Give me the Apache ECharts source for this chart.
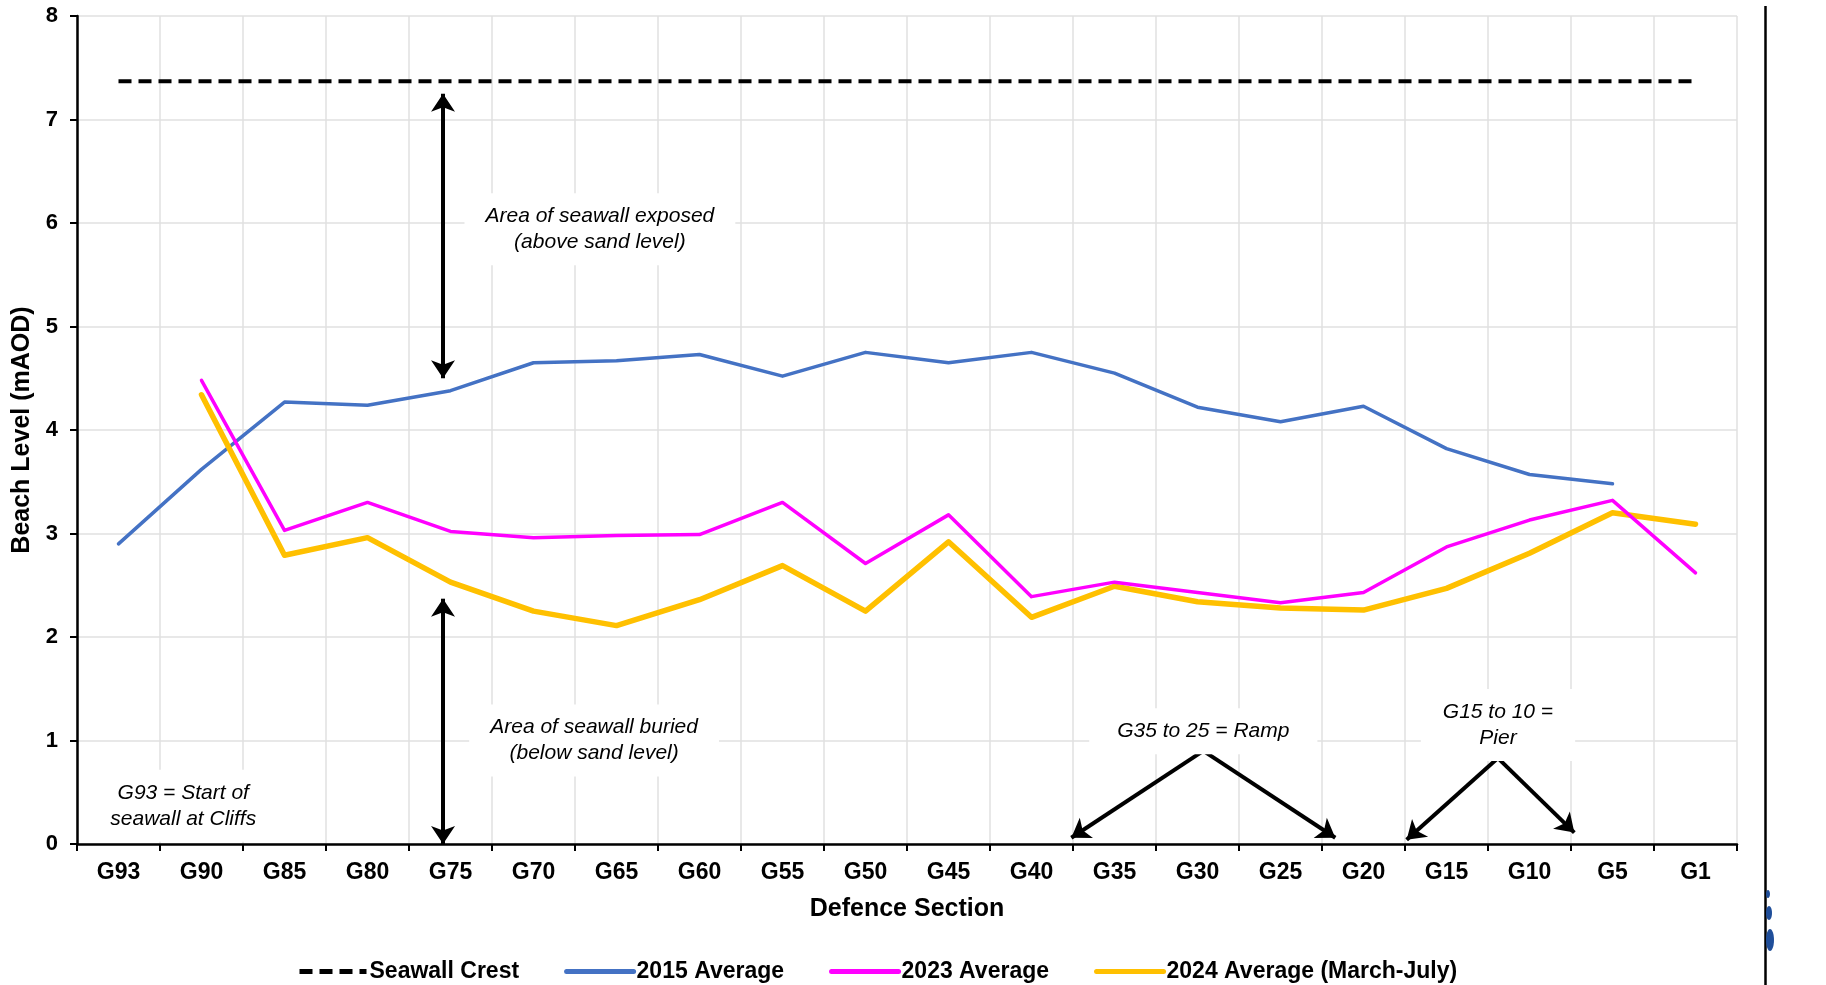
<!DOCTYPE html>
<html>
<head>
<meta charset="utf-8">
<script src="https://cdn.jsdelivr.net/npm/echarts@6/dist/echarts.min.js"></script>
<style>
  html, body { margin: 0; padding: 0; background: #fff; }
  #chart { width: 1826px; height: 985px; }
</style>
</head>
<body>
<div id="chart"></div>
<script>
// ---- Data ----
const categories = ['G93','G90','G85','G80','G75','G70','G65','G60','G55','G50','G45','G40','G35','G30','G25','G20','G15','G10','G5','G1'];
const seawallCrest = [7.37,7.37,7.37,7.37,7.37,7.37,7.37,7.37,7.37,7.37,7.37,7.37,7.37,7.37,7.37,7.37,7.37,7.37,7.37,7.37];
const avg2015 = [2.90,3.62,4.27,4.24,4.38,4.65,4.67,4.73,4.52,4.75,4.65,4.75,4.55,4.22,4.08,4.23,3.82,3.57,3.48,null];
const avg2023 = [null,4.48,3.03,3.30,3.02,2.96,2.98,2.99,3.30,2.71,3.18,2.39,2.53,2.43,2.33,2.43,2.87,3.13,3.32,2.62];
const avg2024 = [null,4.34,2.79,2.96,2.53,2.25,2.11,2.36,2.69,2.25,2.92,2.19,2.49,2.34,2.28,2.26,2.47,2.81,3.20,3.09];
const seriesNames = ['Seawall Crest','2015 Average','2023 Average','2024 Average (March-July)'];
const yMin = 0, yMax = 8, yStep = 1;

// Annotation texts
const noteExposed = 'Area of seawall exposed\n(above sand level)';
const noteBuried = 'Area of seawall buried\n(below sand level)';
const noteStart = 'G93 = Start of\nseawall at Cliffs';
const noteRamp = 'G35 to 25 = Ramp';
const notePier = 'G15 to 10 =\nPier';
const noteEnd = 'G1 = End of\nseawall\nramp';

const FONT = "'Liberation Sans', Arial, sans-serif";

const chart = echarts.init(document.getElementById('chart'), null, { renderer: 'canvas' });

function note(text, x, y, pad) {
  return {
    coord: [x, y],
    symbol: 'rect',
    symbolSize: 1,
    itemStyle: { color: 'rgba(0,0,0,0)' },
    label: {
      show: true,
      position: 'inside',
      formatter: text,
      color: '#000',
      fontFamily: FONT,
      fontStyle: 'italic',
      fontSize: 21,
      lineHeight: 26,
      align: 'center',
      backgroundColor: '#fff',
      padding: pad
    }
  };
}

function arrow(x1, y1, x2, y2, both) {
  return [
    { coord: [x1, y1], symbol: both ? 'arrow' : 'none' },
    { coord: [x2, y2], symbol: 'arrow' }
  ];
}

const option = {
  animation: false,
  backgroundColor: '#fff',
  textStyle: { fontFamily: FONT },
  grid: { left: 77, right: 89, top: 16, bottom: 141, containLabel: false },
  legend: {
    left: 292,
    top: 955,
    itemWidth: 67,
    itemHeight: 14,
    itemGap: 45,
    data: seriesNames,
    lineStyle: { width: 5 },
    itemStyle: { opacity: 0 },
    textStyle: { fontFamily: FONT, fontSize: 23, fontWeight: 'bold', color: '#000', padding: [0, 0, 0, -2] }
  },
  xAxis: [
    {
      type: 'category',
      data: categories,
      boundaryGap: true,
      name: 'Defence Section',
      nameLocation: 'middle',
      nameGap: 53,
      nameTextStyle: { fontFamily: FONT, fontSize: 25, fontWeight: 'bold', color: '#000' },
      axisLine: { show: true, lineStyle: { color: '#000', width: 2.5 } },
      axisTick: { show: true, length: 7, lineStyle: { color: '#000', width: 2 } },
      axisLabel: { fontFamily: FONT, fontSize: 23, fontWeight: 'bold', color: '#000', margin: 17, interval: 0 },
      splitLine: { show: true, lineStyle: { color: '#e0e0e0', width: 1.5 } }
    },
    {
      type: 'value',
      min: 0,
      max: 20,
      show: false
    }
  ],
  yAxis: {
    type: 'value',
    min: yMin,
    max: yMax,
    interval: yStep,
    name: 'Beach Level (mAOD)',
    nameLocation: 'middle',
    nameGap: 37,
    nameTextStyle: { fontFamily: FONT, fontSize: 25, fontWeight: 'bold', color: '#000' },
    axisLine: { show: true, lineStyle: { color: '#000', width: 2.5 } },
    axisTick: { show: true, length: 7, lineStyle: { color: '#000', width: 2 } },
    axisLabel: { fontFamily: FONT, fontSize: 22, fontWeight: 'bold', color: '#000', margin: 19 },
    splitLine: { show: true, lineStyle: { color: '#e0e0e0', width: 1.5 } }
  },
  series: [
    {
      name: seriesNames[0], type: 'line', data: seawallCrest, symbol: 'none',
      lineStyle: { color: '#000', width: 4, type: [13, 7] }, itemStyle: { color: '#000' }, z: 3
    },
    {
      name: seriesNames[1], type: 'line', data: avg2015, symbol: 'none', connectNulls: false,
      lineStyle: { color: '#4472C4', width: 3.5, cap: 'round', join: 'round' }, itemStyle: { color: '#4472C4' }, z: 4
    },
    {
      name: seriesNames[2], type: 'line', data: avg2023, symbol: 'none', connectNulls: false,
      lineStyle: { color: '#FF00FF', width: 3.5, cap: 'round', join: 'round' }, itemStyle: { color: '#FF00FF' }, z: 5
    },
    {
      name: seriesNames[3], type: 'line', data: avg2024, symbol: 'none', connectNulls: false,
      lineStyle: { color: '#FFC000', width: 5.5, cap: 'round', join: 'round' }, itemStyle: { color: '#FFC000' }, z: 4
    },
    {
      name: 'annotations', type: 'line', xAxisIndex: 1, yAxisIndex: 0, data: [], clip: false, silent: true, z: 6,
      markLine: {
        silent: true,
        animation: false,
        symbolSize: [18, 18],
        label: { show: false },
        emphasis: { disabled: true },
        lineStyle: { color: '#000', width: 4, type: 'solid' },
        data: [
          arrow(4.41, 7.25, 4.41, 4.50, true),
          arrow(4.41, 2.37, 4.41, 0.0, true),
          arrow(13.57, 0.90, 11.98, 0.06, false),
          arrow(13.57, 0.90, 15.16, 0.06, false),
          arrow(17.12, 0.83, 16.02, 0.04, false),
          arrow(17.12, 0.83, 18.04, 0.11, false)
        ]
      },
      markPoint: {
        silent: true,
        animation: false,
        data: [
          note(noteExposed, 6.30, 5.94, [10, 21]),
          note(noteBuried, 6.23, 1.00, [10, 21]),
          note(noteStart, 1.28, 0.37, [10, 12]),
          note(noteRamp, 13.57, 1.09, [10, 28]),
          note(notePier, 17.12, 1.15, [10, 22]),
          note(noteEnd, 20.28, 0.55, [10, 24])
        ]
      }
    }
  ],
  graphic: [
    { type: 'line', z: 1, shape: { x1: 1765.5, y1: 6, x2: 1765.5, y2: 985 }, style: { stroke: '#000', lineWidth: 2.5 } },
    { type: 'ellipse', z: 1, shape: { cx: 1768, cy: 894, rx: 2, ry: 4 }, style: { fill: '#1F4E9A' } },
    { type: 'ellipse', z: 1, shape: { cx: 1769, cy: 913, rx: 3, ry: 7 }, style: { fill: '#1F4E9A' } },
    { type: 'ellipse', z: 1, shape: { cx: 1770, cy: 940, rx: 4, ry: 11 }, style: { fill: '#1F4E9A' } }
  ]
};

chart.setOption(option);
</script>
</body>
</html>
